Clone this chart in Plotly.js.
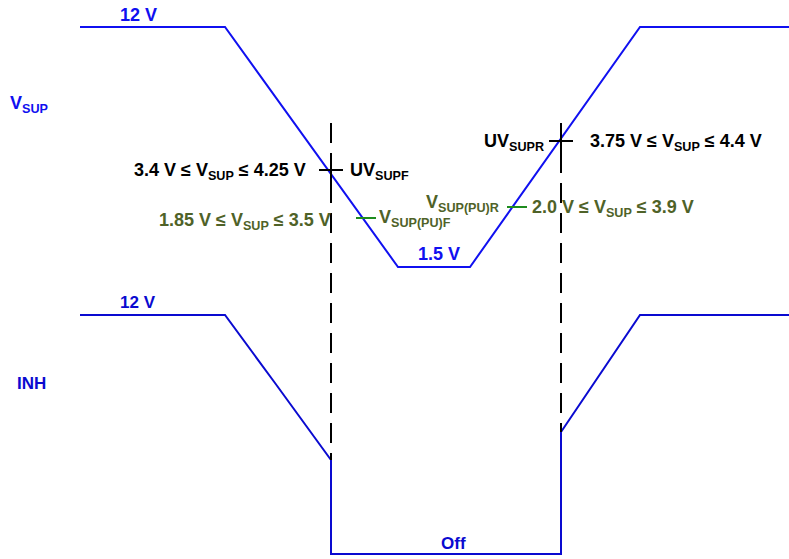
<!DOCTYPE html>
<html>
<head>
<meta charset="utf-8">
<script src="https://cdn.plot.ly/plotly-3.0.1.min.js"></script>
<style>
  html, body { margin: 0; padding: 0; background: #fff; }
  #chart { width: 789px; height: 559px; }
</style>
</head>
<body>
<div id="chart"></div>
<script>
// diagram units: x = time, y = level (screen-like, grows downward)
const vsupTime  = [80, 225, 398, 470, 640, 789];
const vsupLevel = [27, 27, 267, 267, 27, 27];

const inhTime  = [80, 225, 275, 331, 331, 561, 561, 591, 640, 789];
const inhLevel = [315, 315, 383, 460, 554, 554, 432, 388, 315, 315];

// threshold crossings
const uvFallTime = 331, uvFallLevel = 170;
const uvRiseTime = 561, uvRiseLevel = 141;
const puFallTime = 366, puFallLevel = 218;
const puRiseTime = 517, puRiseLevel = 207;

const dashTop = 123;
const dashFallBottom = 460;
const dashRiseBottom = 432;

const blue = '#1010f0';
const inhBlue = '#0a0ad0';
const olive = '#4f6228';
const tickGreen = '#1e8c1e';

const traces = [
  {
    x: vsupTime, y: vsupLevel, mode: 'lines',
    line: { color: blue, width: 2 }, hoverinfo: 'skip'
  },
  {
    x: inhTime, y: inhLevel, mode: 'lines',
    line: { color: inhBlue, width: 2 }, hoverinfo: 'skip'
  },
  // dashed markers for the UV thresholds
  {
    x: [uvFallTime, uvFallTime], y: [dashTop, dashFallBottom], mode: 'lines',
    line: { color: '#000', width: 2, dash: '20px,10px' }, hoverinfo: 'skip'
  },
  {
    x: [uvRiseTime, uvRiseTime], y: [dashTop, dashRiseBottom], mode: 'lines',
    line: { color: '#000', width: 2, dash: '20px,10px' }, hoverinfo: 'skip'
  },
  // crosshair ticks
  {
    x: [uvFallTime - 12, uvFallTime + 12, null, uvFallTime, uvFallTime],
    y: [uvFallLevel, uvFallLevel, null, uvFallLevel - 13, uvFallLevel + 13],
    mode: 'lines', line: { color: '#000', width: 2 }, hoverinfo: 'skip'
  },
  {
    x: [uvRiseTime - 12, uvRiseTime + 12, null, uvRiseTime, uvRiseTime],
    y: [uvRiseLevel, uvRiseLevel, null, uvRiseLevel - 13, uvRiseLevel + 13],
    mode: 'lines', line: { color: '#000', width: 2 }, hoverinfo: 'skip'
  },
  {
    x: [puFallTime - 10, puFallTime + 10, null, puRiseTime - 10, puRiseTime + 10],
    y: [puFallLevel, puFallLevel, null, puRiseLevel, puRiseLevel],
    mode: 'lines', line: { color: tickGreen, width: 2 }, hoverinfo: 'skip'
  }
];

const mainFont = { family: 'Liberation Sans, Arial, sans-serif', size: 18, color: '#000' };
const blueFont = { family: 'Liberation Sans, Arial, sans-serif', size: 18, color: blue };
const narrowFont = { family: 'Liberation Sans Narrow, Liberation Sans, Arial, sans-serif', size: 17, color: inhBlue };
const greenFont = { family: 'Liberation Sans, Arial, sans-serif', size: 18, color: olive };

function label(text, x, y, font, xanchor) {
  return { text: text, x: x, y: y, xref: 'x', yref: 'y', showarrow: false,
           font: font, xanchor: xanchor || 'center', yanchor: 'middle' };
}

const annotations = [
  label('<b>12 V</b>', 138, 15, blueFont),
  label('<b>V<sub>SUP</sub></b>', 8, 104, blueFont, 'left'),
  label('<b>3.4 V ≤ V<sub>SUP</sub> ≤ 4.25 V</b>', 308, 171, mainFont, 'right'),
  label('<b>UV<sub>SUPF</sub></b>', 348, 171, mainFont, 'left'),
  label('<b>1.85 V ≤ V<sub>SUP</sub> ≤ 3.5 V</b>', 333, 221, greenFont, 'right'),
  label('<b>V<sub>SUP(PU)F</sub></b>', 377, 218, greenFont, 'left'),
  label('<b>V<sub>SUP(PU)R</sub></b>', 501, 203, greenFont, 'right'),
  label('<b>2.0 V ≤ V<sub>SUP</sub> ≤ 3.9 V</b>', 530, 208, greenFont, 'left'),
  label('<b>UV<sub>SUPR</sub></b>', 546, 142, mainFont, 'right'),
  label('<b>3.75 V ≤ V<sub>SUP</sub> ≤ 4.4 V</b>', 588, 142, mainFont, 'left'),
  label('<b>1.5 V</b>', 439, 254, blueFont),
  label('<b>12 V</b>', 138, 302, narrowFont),
  label('<b>INH</b>', 31, 383, narrowFont),
  label('<b>Off</b>', 453, 543, narrowFont)
];

const layout = {
  width: 789,
  height: 559,
  margin: { t: 0, r: 0, b: 0, l: 0 },
  paper_bgcolor: '#fff',
  plot_bgcolor: '#fff',
  showlegend: false,
  xaxis: { range: [0, 789], visible: false, fixedrange: true },
  yaxis: { range: [559, 0], visible: false, fixedrange: true },
  annotations: annotations
};

Plotly.newPlot('chart', traces, layout, { staticPlot: true, displayModeBar: false });
</script>
</body>
</html>
